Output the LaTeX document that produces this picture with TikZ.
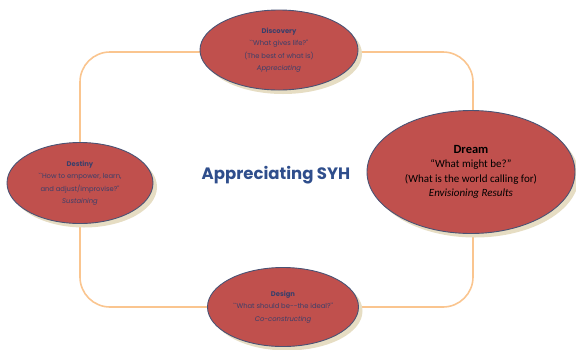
\documentclass[tikz,border=0pt]{standalone}
\usepackage{fontspec}
\setmainfont{Carlito}
\newfontfamily\titlefont{Poppins}
\usetikzlibrary{shadows,shapes.geometric}

\definecolor{ringorange}{HTML}{FAC58F}
\definecolor{petal}{HTML}{C0504D}
\definecolor{petalline}{HTML}{4A5374}
\definecolor{petaltext}{HTML}{3A3F6A}
\definecolor{titleblue}{HTML}{2F4E8C}
\definecolor{shade}{HTML}{E6DDC3}

\begin{document}
\begin{tikzpicture}[x=1pt,y=-1pt,
  petalnode/.style={ellipse,draw=petalline,line width=0.9pt,fill=petal,
    inner sep=0pt,align=center,text=petaltext,
    drop shadow={fill=shade,opacity=1,shadow xshift=4pt,shadow yshift=-4pt}},
  smalltext/.style={font=\titlefont\fontsize{6.8}{12.5}\selectfont},
  ring/.style={draw=ringorange,line width=1.6pt,rounded corners=30pt}]

\useasboundingbox (0,0) rectangle (576,349);

% ring behind the four phases
\coordinate (ringnw) at (80,52);
\coordinate (ringse) at (473,307);
\draw[ring] (ringnw) rectangle (ringse);

\node[petalnode,smalltext,minimum width=158pt,minimum height=80pt]
  (discovery) at (279,50)
  {\textbf{Discovery}\\``What gives life?''\\(The best of what is)\\\textit{Appreciating}};

\node[petalnode,smalltext,minimum width=146pt,minimum height=81pt]
  (destiny) at (80,183)
  {\textbf{Destiny}\\``How to empower, learn,\\and adjust/improvise?''\\\textit{Sustaining}};

\node[petalnode,minimum width=208pt,minimum height=123pt,text=black,
  font=\fontsize{11}{14.5}\selectfont]
  (dream) at (471,172)
  {{\fontsize{12.5}{14.5}\selectfont\textbf{Dream}}\\``What might be?''\\(What is the world calling for)\\\textit{Envisioning Results}};

\node[petalnode,smalltext,minimum width=151pt,minimum height=79pt]
  (design) at (283,307)
  {\textbf{Design}\\``What should be--the ideal?''\\\textit{Co-constructing}};

\node[text=titleblue,font=\titlefont\bfseries\fontsize{16.5}{19}\selectfont]
  (title) at (276,175) {Appreciating SYH};

\end{tikzpicture}
\end{document}
